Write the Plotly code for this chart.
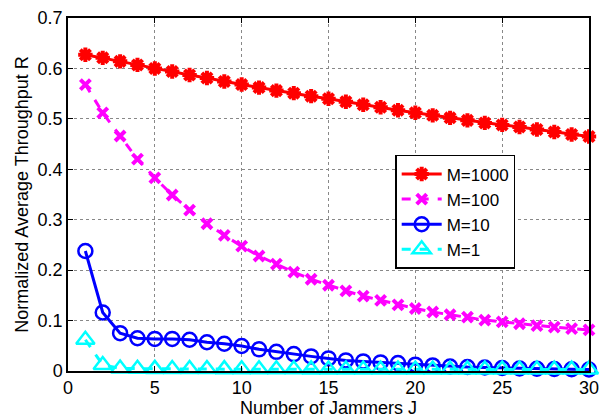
import plotly.graph_objects as go

J = list(range(1, 31))
R_M1000 = [0.627, 0.621, 0.614, 0.607, 0.600, 0.594, 0.587, 0.581, 0.574, 0.568,
           0.562, 0.556, 0.551, 0.545, 0.540, 0.534, 0.528, 0.523, 0.517, 0.512,
           0.507, 0.502, 0.497, 0.492, 0.488, 0.484, 0.479, 0.474, 0.469, 0.465]
R_M100 = [0.568, 0.512, 0.466, 0.420, 0.383, 0.349, 0.319, 0.292, 0.269, 0.2475,
          0.228, 0.212, 0.196, 0.182, 0.170, 0.159, 0.1485, 0.140, 0.131, 0.124,
          0.117, 0.1115, 0.107, 0.101, 0.0975, 0.0937, 0.090, 0.087, 0.084, 0.0814]
R_M10 = [0.238, 0.116, 0.075, 0.065, 0.0636, 0.0636, 0.062, 0.057, 0.054, 0.0496,
         0.043, 0.038, 0.0336, 0.029, 0.025, 0.021, 0.019, 0.017, 0.0157, 0.0126,
         0.011, 0.009, 0.008, 0.007, 0.006, 0.005, 0.0045, 0.004, 0.0035, 0.003]
R_M1 = [0.062, 0.012, 0.005, 0.0045, 0.0042, 0.004, 0.004, 0.0038, 0.0037, 0.0036,
        0.0035, 0.0034, 0.0033, 0.0032, 0.0031, 0.003, 0.003, 0.003, 0.003, 0.003,
        0.003, 0.003, 0.003, 0.003, 0.003, 0.003, 0.003, 0.003, 0.003, 0.003]

x_ticks = [0, 5, 10, 15, 20, 25, 30]
y_ticks = [0, 0.1, 0.2, 0.3, 0.4, 0.5, 0.6, 0.7]
y_labels = ["0", "0.1", "0.2", "0.3", "0.4", "0.5", "0.6", "0.7"]

fig = go.Figure()
fig.add_trace(go.Scatter(
    x=J, y=R_M1000, name="M=1000", mode="lines+markers", cliponaxis=False,
    line=dict(color="#ff0000", width=3),
    marker=dict(symbol="asterisk", size=12, color="#ff0000",
                line=dict(color="#ff0000", width=4))))
fig.add_trace(go.Scatter(
    x=J, y=R_M100, name="M=100", mode="lines+markers", cliponaxis=False,
    line=dict(color="#ff00ff", width=3, dash="dash"),
    marker=dict(symbol="x-thin", size=10, color="#ff00ff",
                line=dict(color="#ff00ff", width=4))))
fig.add_trace(go.Scatter(
    x=J, y=R_M10, name="M=10", mode="lines+markers", cliponaxis=False,
    line=dict(color="#0000ff", width=3),
    marker=dict(symbol="circle-open", size=14, color="#0000ff",
                line=dict(color="#0000ff", width=2.5))))
fig.add_trace(go.Scatter(
    x=J, y=R_M1, name="M=1", mode="lines+markers", cliponaxis=False,
    line=dict(color="#00ffff", width=3, dash="dash"),
    marker=dict(symbol="triangle-up-open", size=16, color="#00ffff",
                line=dict(color="#00ffff", width=2.5))))

axis_common = dict(
    showline=True, linecolor="black", linewidth=1.5, mirror="ticks",
    ticks="inside", ticklen=5, tickcolor="black",
    showgrid=True, gridcolor="#888888", griddash="dot", gridwidth=1,
    zeroline=False, tickfont=dict(size=18, color="black"),
)

fig.update_layout(
    width=607, height=419,
    margin=dict(l=68, r=17, t=8, b=46),
    paper_bgcolor="white", plot_bgcolor="white",
    font=dict(family="Liberation Sans, Arial, sans-serif", color="black"),
    xaxis=dict(range=[0, 30], tickvals=x_ticks,
               title=dict(text="Number of Jammers J", font=dict(size=18), standoff=0),
               **axis_common),
    yaxis=dict(range=[0, 0.7], tickvals=y_ticks, ticktext=y_labels,
               title=dict(text="Normalized Average Throughput R", font=dict(size=18), standoff=4),
               **axis_common),
    legend=dict(x=0.628, y=0.612, xanchor="left", yanchor="top",
                bgcolor="white", bordercolor="black", borderwidth=1.5,
                font=dict(size=17), tracegroupgap=0, itemwidth=40),
)

fig.write_html("out.html", config={"displayModeBar": False},
               post_script="document.body.style.margin='0';document.body.style.overflow='hidden';")
